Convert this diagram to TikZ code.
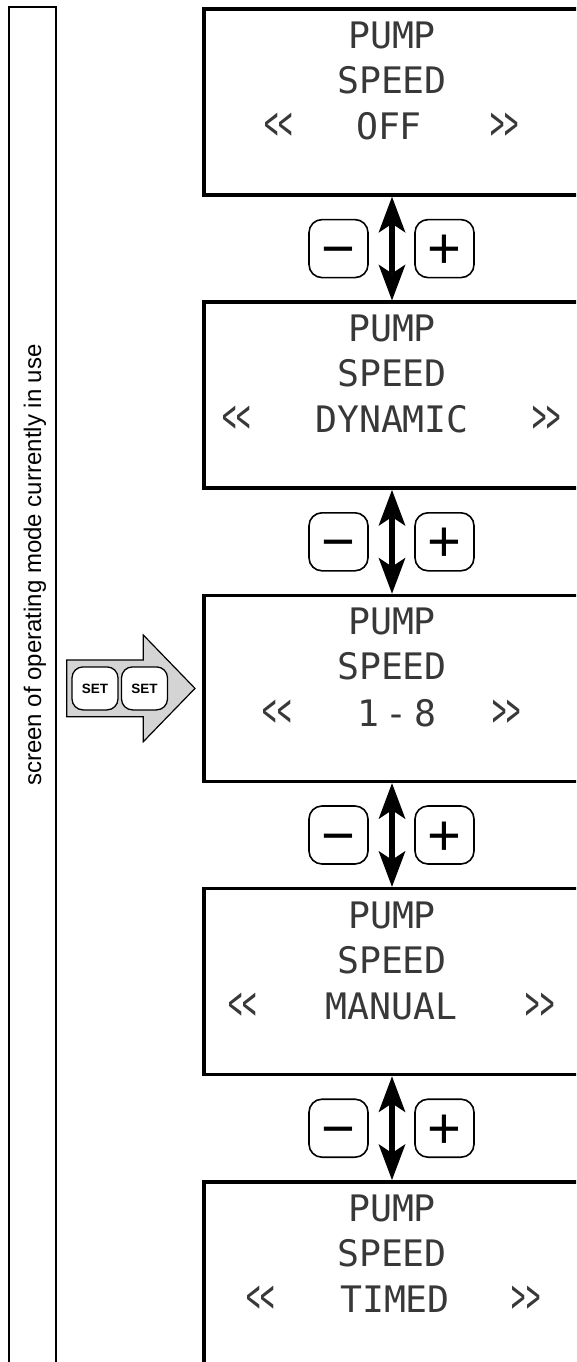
\documentclass[tikz,border=0pt]{standalone}
\usepackage{fontspec}
\setmainfont{Liberation Sans}
\newfontfamily\lcdfont{DejaVu Sans Mono}
\usepackage{graphicx}
\usepackage{tikz}
\usetikzlibrary{positioning,arrows.meta}
\definecolor{arrowgray}{gray}{0.83}
\newcommand{\lchev}{\scalebox{.65}[1.3]{<<}}
\newcommand{\rchev}{\scalebox{.65}[1.3]{>>}}

\begin{document}
\begin{tikzpicture}[x=1pt,y=-1pt,
	screen/.style={draw=black,line width=3.5pt,minimum width=376pt,minimum height=186pt,inner sep=0pt},
	lcd/.style={font=\lcdfont\fontsize{36.5}{45}\selectfont,text=black!78,inner sep=0pt,align=center},
	pmkey/.style={draw=black,line width=1.6pt,rounded corners=13pt,minimum width=59pt,minimum height=58pt,inner sep=0pt,font=\fontsize{58}{58}\selectfont,text height=40pt,text depth=0pt},
	setkey/.style={draw=black,fill=white,line width=1.3pt,rounded corners=11pt,minimum width=46pt,minimum height=43pt,inner sep=0pt,font=\bfseries\fontsize{13.5}{13.5}\selectfont},
	updown/.style={{Stealth[length=36pt,width=27pt,inset=9pt,line width=0pt]}-{Stealth[length=36pt,width=27pt,inset=9pt,line width=0pt]},line width=6.5pt}]
	\useasboundingbox (0,0) rectangle (576,1362);
	\clip (0,0) rectangle (576,1362);

	%side bar
	\draw[line width=2pt] (9,7.5) rectangle (56,1400);
	\node[rotate=90,font=\fontsize{24}{24}\selectfont,inner sep=0pt] (cap) at (35,565) {screen of operating mode currently in use};

	%screens
	\node[screen] (s1) at (392,102) {};
	\node[screen] (s2) at (392,395.2) {};
	\node[screen] (s3) at (392,688.4) {};
	\node[screen] (s4) at (392,981.6) {};
	\node[screen] (s5) at (392,1274.8) {};

	%screen texts
	\node[lcd] (s1t) at (392,58) {PUMP\\SPEED};
	\node[lcd] (s1l) at (278.5,126.5) {\lchev};
	\node[lcd] (s1v) at (389,126.5) {OFF};
	\node[lcd] (s1r) at (504.5,126.5) {\rchev};

	\node[lcd] (s2t) at (392,351.2) {PUMP\\SPEED};
	\node[lcd] (s2l) at (236.5,419.7) {\lchev};
	\node[lcd] (s2v) at (392,419.7) {DYNAMIC};
	\node[lcd] (s2r) at (546.5,419.7) {\rchev};

	\node[lcd] (s3t) at (392,644.4) {PUMP\\SPEED};
	\node[lcd] (s3l) at (277,712.9) {\lchev};
	\node[lcd] (s3v) at (397,712.9) {1\,-\,8};
	\node[lcd] (s3r) at (506.5,712.9) {\rchev};

	\node[lcd] (s4t) at (392,937.6) {PUMP\\SPEED};
	\node[lcd] (s4l) at (242.5,1006.1) {\lchev};
	\node[lcd] (s4v) at (391.5,1006.1) {MANUAL};
	\node[lcd] (s4r) at (540,1006.1) {\rchev};

	\node[lcd] (s5t) at (392,1230.8) {PUMP\\SPEED};
	\node[lcd] (s5l) at (260.5,1299.3) {\lchev};
	\node[lcd] (s5v) at (395,1299.3) {TIMED};
	\node[lcd] (s5r) at (526,1299.3) {\rchev};

	%keys
	\node[pmkey] (m1) at (338.5,248.6) {−};
	\node[pmkey] (p1) at (444.5,248.6) {+};
	\node[pmkey] (m2) at (338.5,541.8) {−};
	\node[pmkey] (p2) at (444.5,541.8) {+};
	\node[pmkey] (m3) at (338.5,835) {−};
	\node[pmkey] (p3) at (444.5,835) {+};
	\node[pmkey] (m4) at (338.5,1128.2) {−};
	\node[pmkey] (p4) at (444.5,1128.2) {+};

	%edges
	\draw[updown] (s1) -- (s2);
	\draw[updown] (s2) -- (s3);
	\draw[updown] (s3) -- (s4);
	\draw[updown] (s4) -- (s5);

	%set arrow
	\draw[fill=arrowgray,line width=1.2pt,line join=miter] (66.7,660) -- (143.3,660) -- (143.3,635) -- (195,688.4) -- (143.3,741.7) -- (143.3,716.7) -- (66.7,716.7) -- cycle;
	\node[setkey] (k1) at (95,688.4) {SET};
	\node[setkey] (k2) at (144.5,688.4) {SET};
\end{tikzpicture}
\end{document}
